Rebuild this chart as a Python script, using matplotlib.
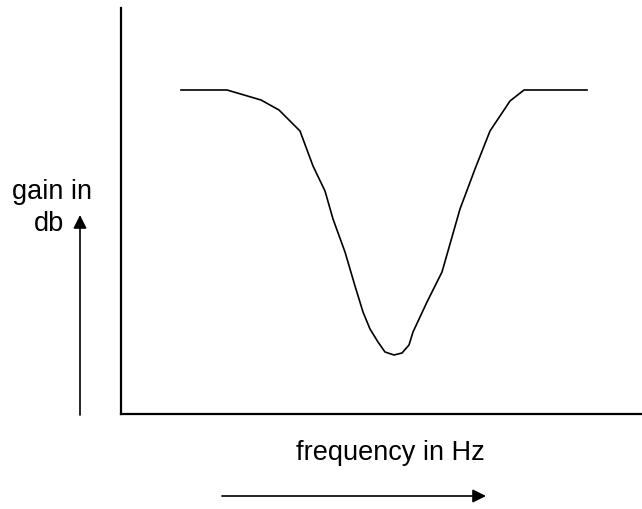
import matplotlib
matplotlib.use("Agg")
import matplotlib.pyplot as plt

plt.rcParams['font.family'] = ['Liberation Sans', 'DejaVu Sans']

# notch response, arbitrary units
freq = [60, 106, 140, 158, 179, 192, 204, 212, 224, 234, 242, 249, 257, 264,
        273, 281, 288, 292, 306, 321, 339, 354, 369, 389, 403, 466]
gain = [324, 324, 314, 304, 283, 248, 223, 195, 162, 128, 102, 85, 72, 62,
        59, 61, 69, 82, 112, 142, 205, 245, 283, 313, 324, 324]

W, H = 642, 510
fig = plt.figure(figsize=(W / 100, H / 100), dpi=100)

# axes box in pixels: left 121, right 642, top 9, bottom 415
ax = fig.add_axes([121 / W, (H - 415) / H, (W - 121) / W, (415 - 9) / H])
ax.plot(freq, gain, color='black', lw=1.2)
ax.set_xlim(0, 521)
ax.set_ylim(0, 406)
ax.set_xticks([])
ax.set_yticks([])
for side in ('top', 'right'):
    ax.spines[side].set_visible(False)
for side in ('left', 'bottom'):
    ax.spines[side].set_linewidth(1.6)
    ax.spines[side].set_color('black')


def px(x, y):
    return (x / W, 1 - y / H)


fs = 19.5
fig.text(*px(52, 192), 'gain in', ha='center', va='center', fontsize=fs)
fig.text(*px(49, 224), 'db', ha='center', va='center', fontsize=fs)
fig.text(*px(390, 453), 'frequency in Hz', ha='center', va='center', fontsize=fs)

arrow = dict(arrowstyle='-|>', color='black', lw=1.2, mutation_scale=20,
             shrinkA=0, shrinkB=0)
fig.add_artist(matplotlib.patches.FancyArrowPatch(
    px(80, 416), px(80, 216), transform=fig.transFigure, **arrow))
fig.add_artist(matplotlib.patches.FancyArrowPatch(
    px(222, 497), px(486, 497), transform=fig.transFigure, **arrow))

fig.savefig('out.png', dpi=100)
